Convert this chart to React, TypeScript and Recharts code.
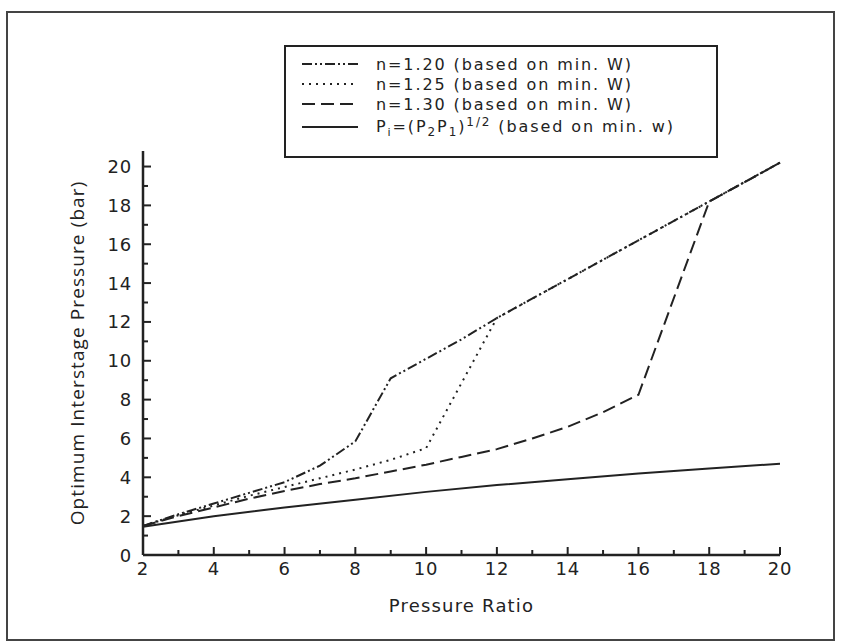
import React from "react";
import { LineChart, Line, XAxis, YAxis, Legend, Label } from "recharts";

// x: pressure ratio, y: optimum interstage pressure (bar)
const pressureRatio = [2, 3, 4, 5, 6, 7, 8, 9, 10, 11, 12, 13, 14, 15, 16, 17, 18, 19, 20];
const n120 = [1.5, 2.1, 2.65, 3.2, 3.75, 4.6, 5.85, 9.1, 10.1, 11.1, 12.2, null, 14.2, null, 16.2, null, 18.2, null, 20.2];
const n125 = [1.5, 2.05, 2.55, 3.05, 3.5, 3.95, 4.4, 4.9, 5.5, null, 12.2, null, 14.2, null, 16.2, null, 18.2, null, 20.2];
const n130 = [1.5, 2.0, 2.45, 2.9, 3.3, 3.65, 3.95, 4.3, 4.65, 5.05, 5.45, 6.0, 6.6, 7.35, 8.25, null, 18.2, null, 20.2];
const minW = [1.45, null, 2.0, null, 2.45, null, 2.85, null, 3.25, null, 3.6, null, 3.9, null, 4.2, null, 4.45, null, 4.7];

const xTicks = [2, 3, 4, 5, 6, 7, 8, 9, 10, 11, 12, 13, 14, 15, 16, 17, 18, 19, 20];
const yTicks = [0, 1, 2, 3, 4, 5, 6, 7, 8, 9, 10, 11, 12, 13, 14, 15, 16, 17, 18, 19, 20];

const seriesKeys = ["n120", "n125", "n130", "minW"];
const seriesNames = [
  "n=1.20 (based on min. W)",
  "n=1.25 (based on min. W)",
  "n=1.30 (based on min. W)",
  "Pi=(P2P1)1/2 (based on min. w)",
];
const seriesDash = ["10 3 2 3 2 3", "2 5", "13 6", undefined];

const chartData = pressureRatio.map((x, i) => ({
  x,
  n120: n120[i],
  n125: n125[i],
  n130: n130[i],
  minW: minW[i],
}));

const INK = "#222";
const FONT = "'DejaVu Sans', sans-serif";

function XTick(props: any) {
  const { x, y, payload } = props;
  const major = payload.value % 2 === 0;
  return (
    <g>
      <line x1={x} x2={x} y1={y} y2={y - (major ? 8 : 5)} stroke={INK} strokeWidth={2} />
      {major && (
        <text x={x} y={y + 13} textAnchor="middle" dominantBaseline="central" fontSize={18} letterSpacing={0.8} fill={INK} fontFamily={FONT}>
          {payload.value}
        </text>
      )}
    </g>
  );
}

function YTick(props: any) {
  const { x, y, payload } = props;
  const major = payload.value % 2 === 0;
  return (
    <g>
      <line x1={x} x2={x + (major ? 8 : 5)} y1={y} y2={y} stroke={INK} strokeWidth={2} />
      {major && (
        <text x={x - 11} y={y} textAnchor="end" dominantBaseline="central" fontSize={18} letterSpacing={0.8} fill={INK} fontFamily={FONT}>
          {payload.value}
        </text>
      )}
    </g>
  );
}

function LegendBox() {
  const rowText = { whiteSpace: "nowrap" as const, lineHeight: "19px", letterSpacing: 1.9 };
  return (
    <div
      style={{
        width: 434,
        height: 113,
        boxSizing: "border-box",
        border: `2px solid ${INK}`,
        background: "#fff",
        padding: "7px 0 0 16px",
        fontFamily: FONT,
        fontSize: 16,
        color: INK,
      }}
    >
      {seriesKeys.map((key, i) => (
        <div key={key} style={{ display: "flex", alignItems: "center", height: i === 3 ? 24 : 20, marginTop: i === 3 ? 1 : 0 }}>
          <svg width={58} height={10} style={{ marginRight: 16 }}>
            <line x1={0} x2={56} y1={5} y2={5} stroke={INK} strokeWidth={2} strokeDasharray={seriesDash[i]} />
          </svg>
          {i === 3 ? (
            <span style={{ ...rowText, lineHeight: "22px" }}>
              P<sub style={{ fontSize: 11, lineHeight: 0 }}>i</sub>=(P<sub style={{ fontSize: 12, lineHeight: 0 }}>2</sub>P
              <sub style={{ fontSize: 12, lineHeight: 0 }}>1</sub>)<sup style={{ fontSize: 12, lineHeight: 0 }}>1/2</sup> (based on min. w)
            </span>
          ) : (
            <span style={rowText}>{seriesNames[i]}</span>
          )}
        </div>
      ))}
    </div>
  );
}

export default function App() {
  return (
    <div style={{ position: "absolute", left: 0, top: 0, width: 842, height: 644, background: "#fff" }}>
      <div
        style={{
          position: "absolute",
          left: 6,
          top: 11,
          width: 829,
          height: 630,
          boxSizing: "border-box",
          border: "2px solid #444",
        }}
      />
      <div style={{ position: "absolute", left: 0, top: 0 }}>
        <LineChart width={842} height={644} data={chartData} margin={{ top: 151, right: 62, bottom: 29, left: 0 }}>
          <XAxis
            dataKey="x"
            type="number"
            domain={[2, 20]}
            ticks={xTicks}
            interval={0}
            height={60}
            tickSize={0}
            tickMargin={0}
            tick={<XTick />}
            axisLine={{ stroke: INK, strokeWidth: 2.5 }}
          >
            <Label value="Pressure Ratio" position="insideBottom" offset={3} fontSize={18} letterSpacing={1.2} fill={INK} fontFamily={FONT} />
          </XAxis>
          <YAxis
            type="number"
            domain={[0, 20.8]}
            ticks={yTicks}
            interval={0}
            width={143}
            tickSize={0}
            tickMargin={0}
            tick={<YTick />}
            axisLine={{ stroke: INK, strokeWidth: 2.5 }}
          >
            <Label
              content={(p: any) => {
                const vb = p.viewBox;
                const cy = vb.y + vb.height / 2;
                return (
                  <text
                    x={77}
                    y={cy}
                    transform={`rotate(-90 77 ${cy})`}
                    textAnchor="middle"
                    dominantBaseline="central"
                    fontSize={19}
                    letterSpacing={1.1}
                    fill={INK}
                    fontFamily="'Open Sans', sans-serif"
                  >
                    Optimum Interstage Pressure (bar)
                  </text>
                );
              }}
            />
          </YAxis>
          <Legend
            layout="vertical"
            align="center"
            verticalAlign="middle"
            content={<LegendBox />}
            wrapperStyle={{ position: "absolute", left: 284, top: 45, width: 434, height: 113 }}
          />
          {seriesKeys.map((key, i) => (
            <Line
              key={key}
              type="linear"
              dataKey={key}
              name={seriesNames[i]}
              stroke={INK}
              strokeWidth={2}
              strokeDasharray={seriesDash[i]}
              dot={false}
              activeDot={false}
              connectNulls
              isAnimationActive={false}
            />
          ))}
        </LineChart>
      </div>
    </div>
  );
}
